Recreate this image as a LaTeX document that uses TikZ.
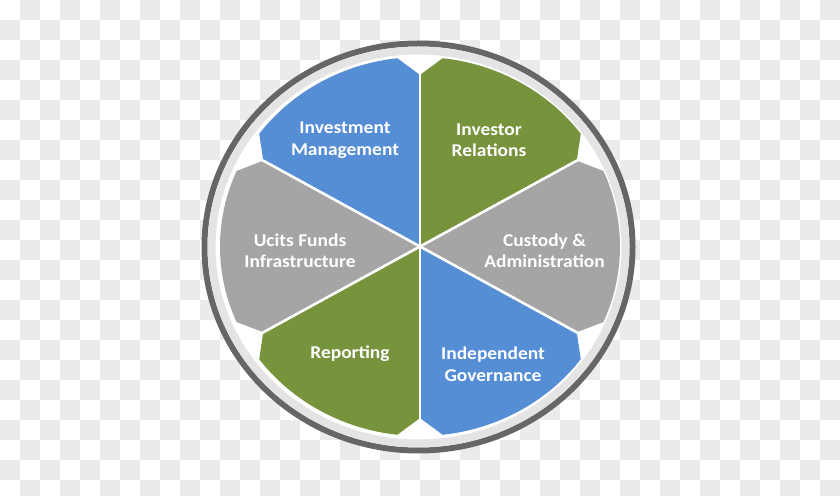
\documentclass[tikz,border=0pt]{standalone}
\usepackage{fontspec}
\setmainfont{Carlito}
\newfontfamily\lblfont{Carlito}[FakeStretch=1.08]
\definecolor{checkgrey}{HTML}{EBEBEB}
\definecolor{wblue}{HTML}{558ED5}
\definecolor{wgreen}{HTML}{77933C}
\definecolor{wgrey}{HTML}{A5A5A5}
\definecolor{ringdark}{HTML}{666666}
\definecolor{ringlight}{HTML}{E4E4E4}
\tikzset{
  lbl/.style={text=white, font=\lblfont\fontsize{18}{21.5}\selectfont\bfseries, align=center, inner sep=0pt},
  sep/.style={draw=white, line width=2.6pt},
}
\begin{document}
\begin{tikzpicture}[x=1pt,y=1pt]
\useasboundingbox (0,0) rectangle (840,495);
\fill[white] (0,0) rectangle (840,495);
% checkerboard background
\foreach \i in {0,...,41}{
  \foreach \j in {0,...,24}{
    \ifodd\numexpr\i+\j\relax
      \fill[checkgrey] (20*\i,495-20*\j) rectangle ++(20,-20);
    \fi
  }
}
% ring
\begin{scope}[shift={(418.5,248)}]
  \fill[white] (0,0) ellipse [x radius=214, y radius=203.5];
  \draw[ringdark, line width=6pt] (0,0) ellipse [x radius=214, y radius=203.5];
  \draw[ringlight, line width=8pt] (0,0) ellipse [x radius=207, y radius=196.5];
\end{scope}
% wedges
\begin{scope}[shift={(420,248.5)}]
  \foreach \a/\col in {90/wblue, 30/wgreen, -30/wgrey, -90/wblue, 210/wgreen, 150/wgrey}{
    \fill[\col] (0,0) -- (\a:181 and 171.5) -- (\a+6.5:200 and 189.5)
      arc[start angle=\a+6.5, end angle=\a+53.5, x radius=200, y radius=189.5]
      -- (\a+60:181 and 171.5) -- cycle;
  }
  \foreach \a in {30,90,150,210,270,330}{
    \draw[sep] (0,0) -- (\a:195 and 185);
  }
\end{scope}
% labels
\node[lbl] (im) at (345,355) {Investment\\Management};
\node[lbl] (ir) at (489,355) {Investor\\Relations};
\node[lbl] (uf) at (300,244) {Ucits Funds\\Infrastructure};
\node[lbl] (ca) at (544.5,244) {Custody \&\\Administration};
\node[lbl] (rp) at (350,141) {Reporting};
\node[lbl] (ig) at (493,130.5) {Independent\\Governance};
\end{tikzpicture}
\end{document}
